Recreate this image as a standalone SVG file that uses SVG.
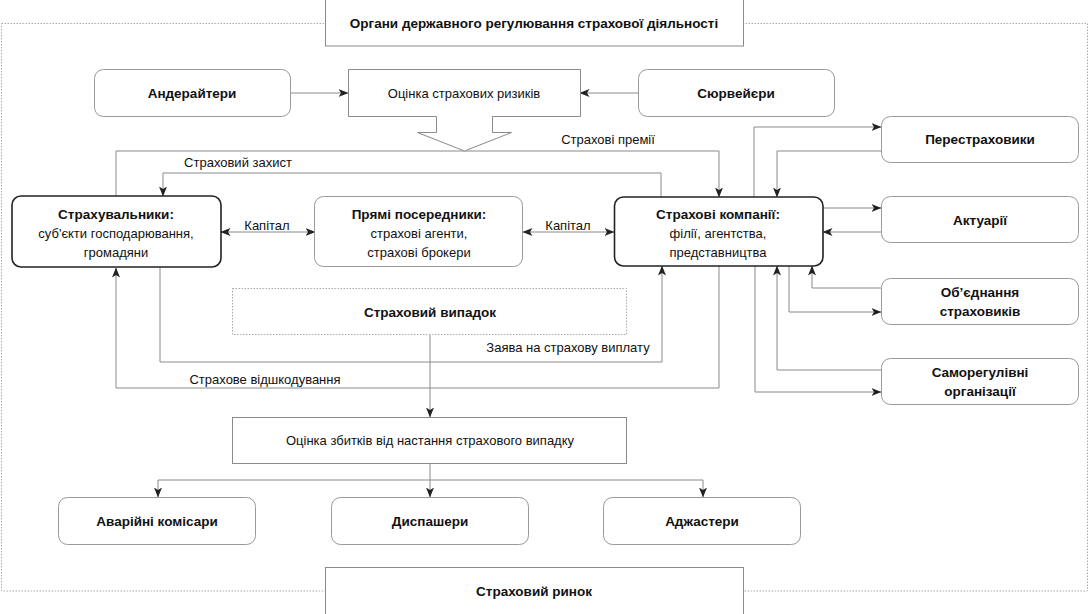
<svg xmlns="http://www.w3.org/2000/svg" width="1090" height="614" viewBox="0 0 1090 614">
<defs>
<marker id="ah" viewBox="0 0 10 8" refX="9.5" refY="4" markerWidth="10" markerHeight="8" markerUnits="userSpaceOnUse" orient="auto">
<path d="M0,0 L10,4 L0,8 L2.5,4 Z" fill="#222"/>
</marker>
<marker id="ahs" viewBox="0 0 10 8" refX="0.5" refY="4" markerWidth="10" markerHeight="8" markerUnits="userSpaceOnUse" orient="auto">
<path d="M10,0 L0,4 L10,8 L7.5,4 Z" fill="#222"/>
</marker>
</defs>
<style>
text{font-family:"Liberation Sans",Arial,sans-serif;font-size:13px;fill:#111;text-anchor:middle;dominant-baseline:central}
.b{font-weight:bold;font-size:13.5px}
.box{fill:#fff;stroke:#8a8a8a;stroke-width:1}
.rbox{fill:#fff;stroke:#9a9a9a;stroke-width:1}
.main{fill:#fff;stroke:#222;stroke-width:1.6}
.dash{fill:#fff;stroke:#aaa;stroke-width:1;stroke-dasharray:1.5,1.5}
.ln{fill:none;stroke:#8a8a8a;stroke-width:1}
.ar{marker-end:url(#ah)}
</style>
<rect width="1090" height="614" fill="#fff"/>
<!-- outer dotted frame -->
<rect x="1.5" y="23.5" width="1086" height="567.5" fill="none" stroke="#aaa" stroke-width="1" stroke-dasharray="1.5,1.5"/>

<g id="connectors">
<path class="ln ar" d="M290,93 H348"/>
<path class="ln ar" d="M638,93 H580"/>
<path class="ln ar" d="M116,196 V151 H719 V197"/>
<path class="ln ar" d="M661,197 V173 H163 V196"/>
<path class="ln ar" d="M754,197 V127 H881"/>
<path class="ln ar" d="M881,151 H777 V197"/>
<path class="ln ar" d="M823,208 H881"/>
<path class="ln ar" d="M881,232 H823"/>
<path class="ln ar" d="M221,232 H315" style="marker-start:url(#ahs)"/>
<path class="ln ar" d="M523,232 H614" style="marker-start:url(#ahs)"/>
<path class="ln ar" d="M881,288 H812 V266"/>
<path class="ln ar" d="M789,266 V312 H881"/>
<path class="ln ar" d="M881,370 H777 V266"/>
<path class="ln ar" d="M755,266 V392 H881"/>
<path class="ln ar" d="M160,267 V362 H662 V266"/>
<path class="ln ar" d="M719,266 V388 H116 V268"/>
<path class="ln ar" d="M430,335 V417"/>
<path class="ln" d="M430,463 V480"/>
<path class="ln ar" d="M158,480 V497"/>
<path class="ln ar" d="M430,480 V497"/>
<path class="ln ar" d="M703,480 V497"/>
<path class="ln" d="M158,480 H703"/>
</g>

<g id="labels">
<text x="608" y="139">Страхові премії</text>
<text x="238" y="162">Страховий захист</text>
<text x="267" y="225">Капітал</text>
<text x="568" y="225">Капітал</text>
<text x="568" y="347">Заява на страхову виплату</text>
<text x="265" y="379">Страхове відшкодування</text>
</g>

<g id="n-organy">
<rect class="box" x="325.5" y="-1" width="418" height="47"/>
<text class="b" x="534" y="23">Органи державного регулювання страхової діяльності</text>
</g>
<g id="n-anderaitery">
<rect class="rbox" x="94.5" y="69.5" width="196" height="47" rx="9"/>
<text class="b" x="192" y="93">Андерайтери</text>
</g>
<g id="n-otsinka-ryzykiv">
<path class="box" d="M348.5,69.5 H580.5 V116.5 H492.5 V132.5 H511.5 L464.5,151 L417.5,132.5 H436.5 V116.5 H348.5 Z"/>
<text x="464" y="93">Оцінка страхових ризиків</text>
</g>
<g id="n-surveiery">
<rect class="rbox" x="638.5" y="69.5" width="196" height="47" rx="9"/>
<text class="b" x="736" y="93">Сюрвейєри</text>
</g>
<g id="n-perestrakhovyky">
<rect class="rbox" x="881.5" y="116.5" width="197" height="46" rx="9"/>
<text class="b" x="980" y="139">Перестраховики</text>
</g>
<g id="n-strakhuvalnyky">
<rect class="main" x="12" y="196" width="209" height="71" rx="9"/>
<text class="b" x="116" y="214">Страхувальники:</text>
<text x="116" y="233">суб'єкти господарювання,</text>
<text x="116" y="252">громадяни</text>
</g>
<g id="n-posered">
<rect class="rbox" x="314.5" y="196.5" width="208" height="70" rx="9"/>
<text class="b" x="419" y="214">Прямі посередники:</text>
<text x="419" y="233">страхові агенти,</text>
<text x="419" y="252">страхові брокери</text>
</g>
<g id="n-kompanii">
<rect class="main" x="614.5" y="197" width="208.5" height="69" rx="9"/>
<text class="b" x="718" y="214">Страхові компанії:</text>
<text x="718" y="233">філії, агентства,</text>
<text x="718" y="252">представництва</text>
</g>
<g id="n-aktuarii">
<rect class="rbox" x="881.5" y="196.5" width="197" height="46" rx="9"/>
<text class="b" x="980" y="220">Актуарії</text>
</g>
<g id="n-obiednannia">
<rect class="rbox" x="881.5" y="278.5" width="197" height="46" rx="9"/>
<text class="b" x="980" y="292">Об’єднання</text>
<text class="b" x="980" y="311">страховиків</text>
</g>
<g id="n-vypadok">
<rect class="dash" x="232.5" y="288.5" width="394" height="46"/>
<text class="b" x="430" y="312">Страховий випадок</text>
</g>
<g id="n-samoreg">
<rect class="rbox" x="881.5" y="358.5" width="197" height="46" rx="9"/>
<text class="b" x="980" y="372">Саморегулівні</text>
<text class="b" x="980" y="391">організації</text>
</g>
<g id="n-otsinka-zbytkiv">
<rect class="box" x="232.5" y="417.5" width="394" height="46"/>
<text x="430" y="440">Оцінка збитків від настання страхового випадку</text>
</g>
<g id="n-avariini">
<rect class="rbox" x="58.5" y="497.5" width="197" height="47" rx="9"/>
<text class="b" x="157" y="521">Аварійні комісари</text>
</g>
<g id="n-dyspashery">
<rect class="rbox" x="331.5" y="497.5" width="197" height="47" rx="9"/>
<text class="b" x="430" y="521">Диспашери</text>
</g>
<g id="n-adzhastery">
<rect class="rbox" x="603.5" y="497.5" width="197" height="47" rx="9"/>
<text class="b" x="702" y="521">Аджастери</text>
</g>
<g id="n-rynok">
<rect class="box" x="325.5" y="567.5" width="418" height="48"/>
<text class="b" x="534" y="591">Страховий ринок</text>
</g>
</svg>
